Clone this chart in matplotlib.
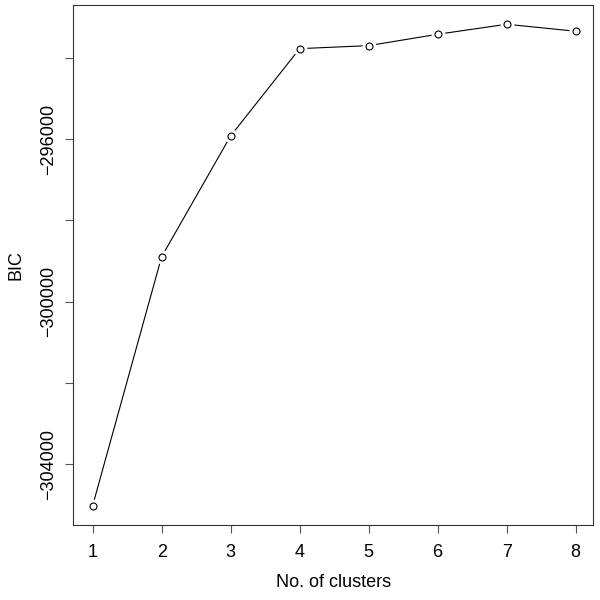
import matplotlib
matplotlib.use("Agg")
import matplotlib.pyplot as plt

clusters = [1, 2, 3, 4, 5, 6, 7, 8]
bic = [-305024, -298894, -295920, -293772, -293698, -293418, -293172, -293344]
ytick_vals = [-304000, -302000, -300000, -298000, -296000, -294000]
ytick_labels = ["\u2212304000", "", "\u2212300000", "", "\u2212296000", ""]

plt.rcParams['font.family'] = ['Liberation Sans', 'DejaVu Sans']

fig = plt.figure(figsize=(6, 6), dpi=100)
ax = fig.add_axes([73.3 / 600, 75 / 600, 520 / 600, 520 / 600])

ax.plot(clusters, bic, color='black', linewidth=0.8, zorder=1)
# white halo to create the gap of R's type="b"
ax.plot(clusters, bic, linestyle='none', marker='o', markersize=9,
        markerfacecolor='white', markeredgecolor='white', zorder=2)
ax.plot(clusters, bic, linestyle='none', marker='o', markersize=5,
        markerfacecolor='white', markeredgecolor='black', markeredgewidth=0.8, zorder=3)

ax.set_xlim(0.72, 8.255)
ax.set_ylim(-305498, -292698)
ax.set_xticks(clusters)
ax.set_xticklabels([str(c) for c in clusters])
ax.set_yticks(ytick_vals)
ax.set_yticklabels(ytick_labels, rotation=90, va='center')

ax.tick_params(axis='both', direction='out', length=6, width=0.8, labelsize=13, pad=6, color='#555555')
ax.tick_params(axis='x', pad=8)
for s in ax.spines.values():
    s.set_linewidth(0.8)
    s.set_color('#333333')

ax.set_xlabel("No. of clusters", fontsize=13, labelpad=9)
ax.set_ylabel("BIC", fontsize=13, labelpad=11)

fig.savefig("out.png", dpi=100)
